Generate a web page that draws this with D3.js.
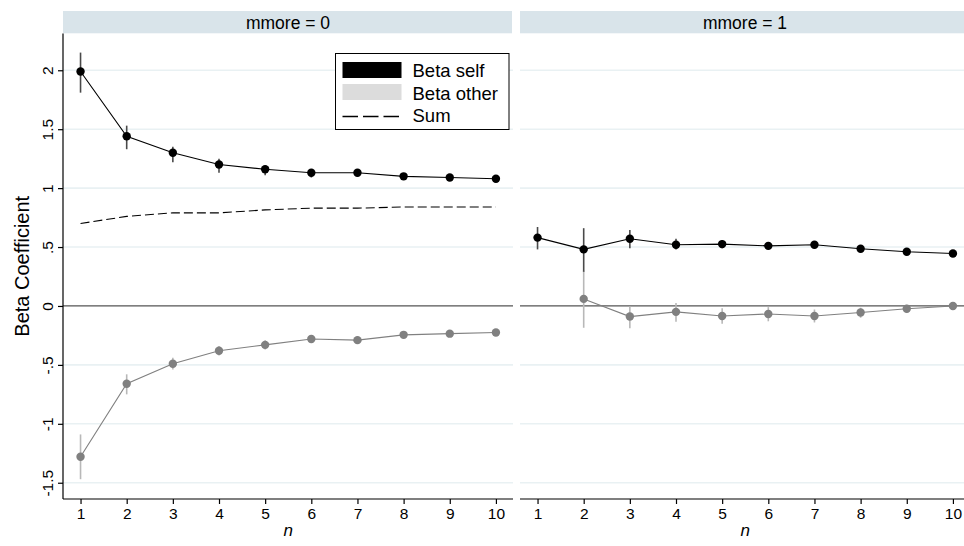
<!DOCTYPE html>
<html>
<head>
<meta charset="utf-8">
<script src="https://cdn.jsdelivr.net/npm/d3@7"></script>
<style>
  html, body { margin: 0; padding: 0; background: #fff; }
  svg { display: block; font-family: "Liberation Sans", Arial, sans-serif; }
</style>
</head>
<body>
<svg id="chart" width="964" height="546"></svg>
<script>
// n = number of others in the group
const nValues = [1, 2, 3, 4, 5, 6, 7, 8, 9, 10];
const panelTitles = ["mmore = 0", "mmore = 1"];
const yTickValues = [-1.5, -1, -0.5, 0, 0.5, 1, 1.5, 2];
const yTickLabels = ["-1.5", "-1", "-.5", "0", ".5", "1", "1.5", "2"];
const legendLabels = ["Beta self", "Beta other", "Sum"];

// mmore = 0
const selfCoef0 = [1.99, 1.44, 1.30, 1.20, 1.16, 1.13, 1.13, 1.10, 1.09, 1.08];
const selfLo0   = [1.81, 1.33, 1.22, 1.13, 1.11, 1.09, 1.10, 1.07, 1.07, 1.05];
const selfHi0   = [2.15, 1.53, 1.35, 1.25, 1.19, 1.16, 1.16, 1.12, 1.11, 1.10];
const otherCoef0 = [-1.28, -0.66, -0.49, -0.38, -0.33, -0.28, -0.29, -0.245, -0.235, -0.225];
const otherLo0   = [-1.47, -0.75, -0.54, -0.42, -0.37, -0.31, -0.32, -0.27, -0.26, -0.25];
const otherHi0   = [-1.09, -0.58, -0.44, -0.34, -0.29, -0.25, -0.26, -0.22, -0.21, -0.20];
const sumCoef0   = [0.70, 0.76, 0.79, 0.79, 0.815, 0.83, 0.83, 0.84, 0.84, 0.84];

// mmore = 1 (no "other" estimate for n = 1)
const selfCoef1 = [0.58, 0.48, 0.57, 0.52, 0.525, 0.51, 0.52, 0.485, 0.46, 0.445];
const selfLo1   = [0.48, 0.29, 0.49, 0.48, 0.49, 0.48, 0.49, 0.46, 0.44, 0.42];
const selfHi1   = [0.67, 0.66, 0.645, 0.57, 0.56, 0.54, 0.55, 0.51, 0.48, 0.465];
const otherCoef1 = [null, 0.06, -0.09, -0.05, -0.085, -0.068, -0.085, -0.056, -0.023, 0.0];
const otherLo1   = [null, -0.185, -0.19, -0.135, -0.15, -0.13, -0.14, -0.10, -0.06, -0.035];
const otherHi1   = [null, 0.30, -0.005, 0.025, -0.02, -0.01, -0.03, -0.015, 0.01, 0.03];

const panels = [
  { title: panelTitles[0], left: 63, right: 513,
    self: selfCoef0, selfLo: selfLo0, selfHi: selfHi0,
    other: otherCoef0, otherLo: otherLo0, otherHi: otherHi0, sum: sumCoef0 },
  { title: panelTitles[1], left: 520, right: 970,
    self: selfCoef1, selfLo: selfLo1, selfHi: selfHi1,
    other: otherCoef1, otherLo: otherLo1, otherHi: otherHi1, sum: null }
];

const plotTop = 33.5, plotBottom = 499;
const svg = d3.select("#chart");
const y = d3.scaleLinear().domain([-1.638, 2.312]).range([plotBottom, plotTop]);

const colSelf = "#000", colSelfCI = "#4a4a4a";
const colOther = "#808080", colOtherCI = "#b8b8b8";
const gridCol = "#e9f1f3", stripCol = "#d9e4ea";

svg.append("rect").attr("width", 964).attr("height", 546).attr("fill", "#fff");

panels.forEach((p, pi) => {
  const x = d3.scaleLinear().domain([0.62, 10.37]).range([p.left, p.right]);
  const g = svg.append("g");
  const visRight = Math.min(p.right, 964);

  // strip header
  g.append("rect").attr("x", p.left).attr("y", 11)
    .attr("width", visRight - p.left - (pi === 0 ? 1 : 0)).attr("height", 22.3)
    .attr("fill", stripCol);
  g.append("text").attr("x", (p.left + p.right) / 2).attr("y", 28.5)
    .attr("text-anchor", "middle").attr("font-size", 17.5).attr("fill", "#000")
    .text(p.title);

  // gridlines
  g.selectAll("line.grid").data(yTickValues.filter(v => v !== 0)).join("line")
    .attr("class", "grid")
    .attr("x1", p.left).attr("x2", visRight)
    .attr("y1", d => y(d)).attr("y2", d => y(d))
    .attr("stroke", gridCol).attr("stroke-width", 1.6);

  // zero reference line
  g.append("line").attr("x1", p.left).attr("x2", visRight)
    .attr("y1", y(0)).attr("y2", y(0))
    .attr("stroke", "#555").attr("stroke-width", 1.3);

  // bottom axis
  const xAxis = d3.axisBottom(x).tickValues(nValues).tickSize(5).tickSizeOuter(0).tickPadding(4);
  const ax = g.append("g").attr("transform", `translate(0,${plotBottom})`).call(xAxis);
  ax.select(".domain").attr("d", `M${p.left},0H${visRight}`).attr("stroke", "#000").attr("stroke-width", 1.2);
  ax.selectAll(".tick line").attr("stroke", "#000").attr("stroke-width", 1.2);
  ax.selectAll(".tick text").attr("font-size", 15.5).attr("font-family", "Liberation Sans, Arial, sans-serif")
    .attr("fill", "#000").attr("dy", "0.71em");

  g.append("text").attr("x", x(5.5)).attr("y", 536)
    .attr("text-anchor", "middle").attr("font-size", 17).attr("font-style", "italic")
    .text("n");

  // Beta other: CIs, line, markers
  const otherIdx = nValues.map((d, i) => i).filter(i => p.other[i] !== null);
  g.selectAll("line.oci").data(otherIdx).join("line").attr("class", "oci")
    .attr("x1", i => x(nValues[i])).attr("x2", i => x(nValues[i]))
    .attr("y1", i => y(p.otherLo[i])).attr("y2", i => y(p.otherHi[i]))
    .attr("stroke", colOtherCI).attr("stroke-width", 1.6);
  g.append("path").datum(otherIdx)
    .attr("d", d3.line().x(i => x(nValues[i])).y(i => y(p.other[i])))
    .attr("fill", "none").attr("stroke", colOther).attr("stroke-width", 1.1);
  g.selectAll("circle.om").data(otherIdx).join("circle").attr("class", "om")
    .attr("cx", i => x(nValues[i])).attr("cy", i => y(p.other[i])).attr("r", 4.2)
    .attr("fill", colOther);

  // Beta self: CIs, line, markers
  const selfIdx = nValues.map((d, i) => i);
  g.selectAll("line.sci").data(selfIdx).join("line").attr("class", "sci")
    .attr("x1", i => x(nValues[i])).attr("x2", i => x(nValues[i]))
    .attr("y1", i => y(p.selfLo[i])).attr("y2", i => y(p.selfHi[i]))
    .attr("stroke", colSelfCI).attr("stroke-width", 1.6);
  g.append("path").datum(selfIdx)
    .attr("d", d3.line().x(i => x(nValues[i])).y(i => y(p.self[i])))
    .attr("fill", "none").attr("stroke", colSelf).attr("stroke-width", 1.1);
  g.selectAll("circle.sm").data(selfIdx).join("circle").attr("class", "sm")
    .attr("cx", i => x(nValues[i])).attr("cy", i => y(p.self[i])).attr("r", 4.2)
    .attr("fill", colSelf);

  // Sum (dashed)
  if (p.sum) {
    g.append("path").datum(selfIdx)
      .attr("d", d3.line().x(i => x(nValues[i])).y(i => y(p.sum[i])))
      .attr("fill", "none").attr("stroke", "#000").attr("stroke-width", 1.1)
      .attr("stroke-dasharray", "9,4");
  }
});

// left y axis
const yAxis = d3.axisLeft(y).tickValues(yTickValues).tickSize(5).tickSizeOuter(0)
  .tickFormat((d, i) => yTickLabels[i]);
const ay = svg.append("g").attr("transform", "translate(63,0)").call(yAxis);
ay.select(".domain").attr("d", `M0,${plotTop}V${plotBottom}`).attr("stroke", "#000").attr("stroke-width", 1.2);
ay.selectAll(".tick line").attr("stroke", "#000").attr("stroke-width", 1.2);
ay.selectAll(".tick text")
  .attr("font-size", 15.5).attr("font-family", "Liberation Sans, Arial, sans-serif").attr("fill", "#000")
  .attr("x", null).attr("dy", null).attr("text-anchor", "middle")
  .attr("transform", "translate(-10,0) rotate(-90)");

svg.append("text")
  .attr("transform", `translate(29,${(plotTop + plotBottom) / 2}) rotate(-90)`)
  .attr("text-anchor", "middle").attr("font-size", 20).attr("fill", "#000")
  .text("Beta Coefficient");

// legend
const lg = svg.append("g");
lg.append("rect").attr("x", 335.5).attr("y", 53.5).attr("width", 173.5).attr("height", 76)
  .attr("fill", "#fff").attr("stroke", "#000").attr("stroke-width", 1);
lg.append("rect").attr("x", 342.5).attr("y", 62).attr("width", 59).attr("height", 16).attr("fill", "#000");
lg.append("rect").attr("x", 342.5).attr("y", 84).attr("width", 59).attr("height", 16).attr("fill", "#dcdcdc");
lg.append("line").attr("x1", 342.5).attr("x2", 401.5).attr("y1", 116.5).attr("y2", 116.5)
  .attr("stroke", "#000").attr("stroke-width", 1.4).attr("stroke-dasharray", "15.5,5");
lg.selectAll("text").data(legendLabels).join("text")
  .attr("x", 412.5).attr("y", (d, i) => 77 + i * 22.5)
  .attr("font-size", 18.5).attr("fill", "#000").text(d => d);
</script>
</body>
</html>
